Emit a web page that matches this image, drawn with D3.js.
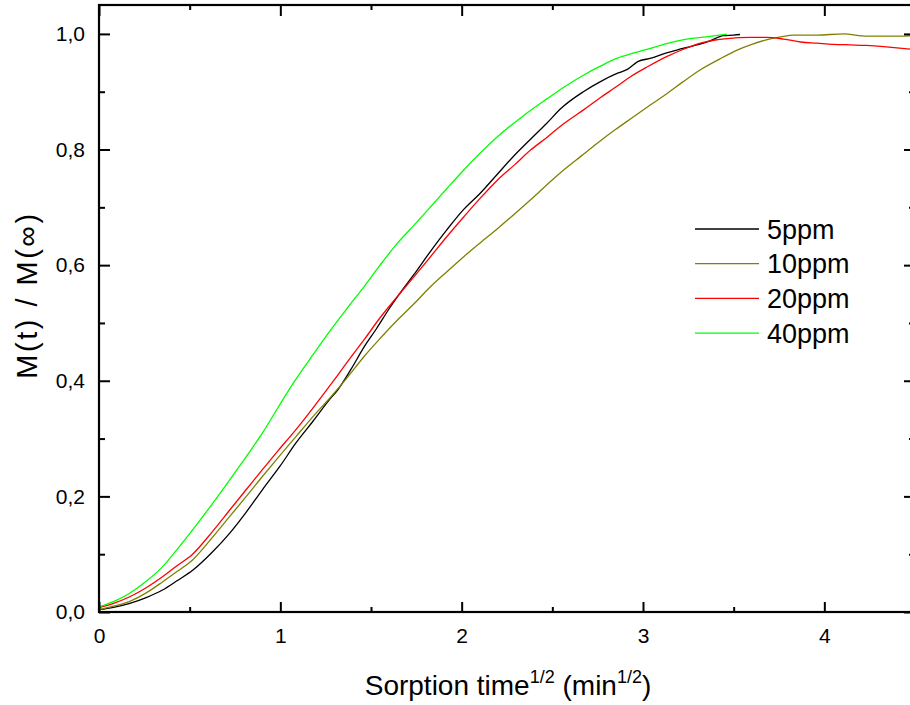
<!DOCTYPE html>
<html>
<head>
<meta charset="utf-8">
<script src="https://cdn.jsdelivr.net/npm/d3@7/dist/d3.min.js"></script>
<style>
  html, body { margin: 0; padding: 0; background: #fff; }
  svg text { font-family: "Liberation Sans", Arial, sans-serif; fill: #000; }
</style>
</head>
<body>
<svg id="chart" width="910" height="705"></svg>
<script>
// Sorption kinetics: normalized uptake vs square root of time
const seriesNames = ["5ppm", "10ppm", "20ppm", "40ppm"];
const seriesColors = ["#000000", "#808000", "#ff0000", "#00ff00"];

const t5 = [0, 0.08, 0.17, 0.26, 0.35, 0.43, 0.52, 0.62, 0.72, 0.81, 0.90, 1.00, 1.085, 1.18, 1.27, 1.316, 1.39, 1.463, 1.53, 1.601, 1.67, 1.735, 1.826, 1.918, 2.010, 2.101, 2.193, 2.285, 2.377, 2.468, 2.547, 2.671, 2.768, 2.86, 2.916, 2.971, 3.045, 3.13, 3.186, 3.297, 3.37, 3.443, 3.50, 3.535];
const v5 = [0.004, 0.008, 0.015, 0.025, 0.038, 0.054, 0.073, 0.102, 0.136, 0.172, 0.211, 0.253, 0.292, 0.330, 0.367, 0.384, 0.420, 0.459, 0.490, 0.525, 0.556, 0.583, 0.623, 0.661, 0.696, 0.724, 0.756, 0.788, 0.817, 0.845, 0.871, 0.900, 0.918, 0.932, 0.939, 0.952, 0.958, 0.967, 0.972, 0.981, 0.988, 0.997, 0.998, 0.999];

const t10 = [0, 0.08, 0.167, 0.26, 0.35, 0.43, 0.516, 0.62, 0.72, 0.81, 0.90, 0.99, 1.085, 1.18, 1.278, 1.37, 1.462, 1.55, 1.646, 1.74, 1.829, 1.92, 2.013, 2.10, 2.197, 2.29, 2.38, 2.47, 2.564, 2.66, 2.748, 2.85, 2.95, 3.04, 3.133, 3.22, 3.317, 3.42, 3.519, 3.60, 3.684, 3.76, 3.83, 3.96, 4.106, 4.235, 4.364, 4.5];
const v10 = [0.004, 0.010, 0.018, 0.033, 0.052, 0.070, 0.090, 0.127, 0.165, 0.199, 0.234, 0.268, 0.303, 0.338, 0.372, 0.406, 0.442, 0.473, 0.505, 0.534, 0.563, 0.589, 0.615, 0.638, 0.663, 0.688, 0.713, 0.739, 0.765, 0.789, 0.811, 0.835, 0.857, 0.877, 0.897, 0.917, 0.938, 0.956, 0.972, 0.982, 0.990, 0.995, 0.998, 0.998, 1.000, 0.996, 0.996, 0.997];

const t20 = [0, 0.08, 0.167, 0.26, 0.35, 0.43, 0.516, 0.62, 0.72, 0.81, 0.90, 0.99, 1.085, 1.19, 1.296, 1.38, 1.462, 1.55, 1.646, 1.74, 1.829, 1.92, 2.013, 2.10, 2.197, 2.29, 2.38, 2.47, 2.564, 2.674, 2.766, 2.85, 2.931, 3.03, 3.133, 3.22, 3.317, 3.39, 3.464, 3.592, 3.68, 3.776, 3.87, 3.96, 4.05, 4.143, 4.23, 4.327, 4.40, 4.5];
const v20 = [0.0075, 0.015, 0.026, 0.042, 0.061, 0.080, 0.100, 0.137, 0.176, 0.211, 0.246, 0.280, 0.315, 0.357, 0.401, 0.437, 0.471, 0.509, 0.546, 0.581, 0.615, 0.650, 0.684, 0.715, 0.747, 0.773, 0.799, 0.821, 0.845, 0.869, 0.890, 0.908, 0.926, 0.944, 0.961, 0.973, 0.984, 0.989, 0.992, 0.994, 0.994, 0.991, 0.986, 0.984, 0.982, 0.981, 0.980, 0.978, 0.976, 0.973];

const t40 = [0, 0.08, 0.167, 0.26, 0.35, 0.43, 0.516, 0.62, 0.72, 0.81, 0.90, 0.99, 1.076, 1.18, 1.278, 1.37, 1.462, 1.55, 1.646, 1.74, 1.829, 1.92, 2.013, 2.10, 2.197, 2.33, 2.472, 2.574, 2.674, 2.77, 2.858, 2.95, 3.041, 3.13, 3.225, 3.35, 3.464];
const v40 = [0.009, 0.018, 0.032, 0.053, 0.078, 0.108, 0.142, 0.185, 0.228, 0.268, 0.309, 0.355, 0.398, 0.445, 0.488, 0.526, 0.563, 0.600, 0.638, 0.670, 0.701, 0.733, 0.765, 0.793, 0.822, 0.856, 0.888, 0.910, 0.929, 0.945, 0.958, 0.967, 0.975, 0.983, 0.990, 0.995, 0.9995];

const xTicks = [0, 1, 2, 3, 4];
const xTickLabels = ["0", "1", "2", "3", "4"];
const xMinorTicks = [0.5, 1.5, 2.5, 3.5, 4.5];
const yTicks = [0, 0.2, 0.4, 0.6, 0.8, 1.0];
const yTickLabels = ["0,0", "0,2", "0,4", "0,6", "0,8", "1,0"];
const yMinorTicks = [0.1, 0.3, 0.5, 0.7, 0.9];

const seriesT = [t5, t10, t20, t40];
const seriesV = [v5, v10, v20, v40];

const svg = d3.select("#chart");
const plotLeft = 99, plotRight = 915, plotTop = 5, plotBottom = 612;

const x = d3.scaleLinear().domain([0, 4.5]).range([plotLeft, plotRight]);
const y = d3.scaleLinear().domain([0, 1.05]).range([plotBottom, plotTop]);

svg.append("defs").append("clipPath").attr("id", "plotClip")
  .append("rect").attr("x", plotLeft).attr("y", plotTop)
  .attr("width", plotRight - plotLeft).attr("height", plotBottom - plotTop);

// data curves
const line = d3.line().x(d => x(d[0])).y(d => y(d[1])).curve(d3.curveMonotoneX);
const plot = svg.append("g").attr("clip-path", "url(#plotClip)");
seriesNames.forEach((name, i) => {
  const pts = seriesT[i].map((t, j) => [t, seriesV[i][j]]);
  plot.append("path")
    .datum(pts)
    .attr("d", line)
    .attr("fill", "none")
    .attr("stroke", seriesColors[i])
    .attr("stroke-width", 1.3)
    .attr("stroke-linejoin", "round");
});

// axes: ticks point inward on all four sides
function styleAxis(g) {
  g.select(".domain").remove();
  g.selectAll(".tick line").attr("stroke", "#000").attr("stroke-width", 2);
  g.selectAll("text").attr("font-size", 21).attr("fill", "#000")
    .attr("font-family", '"Liberation Sans", Arial, sans-serif');
}

const bottomAxis = d3.axisBottom(x).tickValues(xTicks)
  .tickFormat((d, i) => xTickLabels[i]).tickSizeInner(-10).tickSizeOuter(0).tickPadding(16);
svg.append("g").attr("transform", `translate(0,${plotBottom})`).call(bottomAxis).call(styleAxis);
svg.append("g").attr("transform", `translate(0,${plotBottom})`)
  .call(d3.axisBottom(x).tickValues(xMinorTicks).tickFormat("").tickSizeInner(-5).tickSizeOuter(0))
  .call(styleAxis);

svg.append("g").attr("transform", `translate(0,${plotTop})`)
  .call(d3.axisTop(x).tickValues(xTicks).tickFormat("").tickSizeInner(-11).tickSizeOuter(0))
  .call(styleAxis);
svg.append("g").attr("transform", `translate(0,${plotTop})`)
  .call(d3.axisTop(x).tickValues(xMinorTicks).tickFormat("").tickSizeInner(-5).tickSizeOuter(0))
  .call(styleAxis);

const leftAxis = d3.axisLeft(y).tickValues(yTicks)
  .tickFormat((d, i) => yTickLabels[i]).tickSizeInner(-11).tickSizeOuter(0).tickPadding(14);
svg.append("g").attr("transform", `translate(${plotLeft},0)`).call(leftAxis).call(styleAxis);
svg.append("g").attr("transform", `translate(${plotLeft},0)`)
  .call(d3.axisLeft(y).tickValues(yMinorTicks).tickFormat("").tickSizeInner(-6).tickSizeOuter(0))
  .call(styleAxis);

svg.append("g").attr("transform", `translate(${plotRight},0)`)
  .call(d3.axisRight(y).tickValues(yTicks).tickFormat("").tickSizeInner(-11).tickSizeOuter(0))
  .call(styleAxis);
svg.append("g").attr("transform", `translate(${plotRight},0)`)
  .call(d3.axisRight(y).tickValues(yMinorTicks).tickFormat("").tickSizeInner(-6).tickSizeOuter(0))
  .call(styleAxis);

// frame
svg.append("rect")
  .attr("x", plotLeft).attr("y", plotTop)
  .attr("width", plotRight - plotLeft).attr("height", plotBottom - plotTop)
  .attr("fill", "none").attr("stroke", "#000").attr("stroke-width", 2.2);

// legend
const legend = svg.append("g");
seriesNames.forEach((name, i) => {
  const ly = 229 + i * 34.7;
  legend.append("line")
    .attr("x1", 695).attr("x2", 759).attr("y1", ly).attr("y2", ly)
    .attr("stroke", seriesColors[i]).attr("stroke-width", 1.3);
  legend.append("text")
    .attr("x", 767).attr("y", ly + 9.5)
    .attr("font-size", 27)
    .text(name);
});

// axis titles
const xTitle = svg.append("text")
  .attr("x", 508).attr("y", 695)
  .attr("text-anchor", "middle")
  .attr("font-size", 28);
xTitle.append("tspan").text("Sorption time");
xTitle.append("tspan").attr("font-size", 18).attr("dy", -12).text("1/2");
xTitle.append("tspan").attr("dy", 12).text(" (min");
xTitle.append("tspan").attr("font-size", 18).attr("dy", -12).text("1/2");
xTitle.append("tspan").attr("dy", 12).text(")");

svg.append("text")
  .attr("transform", "translate(37,295) rotate(-90)")
  .attr("text-anchor", "middle")
  .attr("font-size", 29)
  .attr("letter-spacing", 2.5)
  .text("M(t) / M(\u221E)");
</script>
</body>
</html>
